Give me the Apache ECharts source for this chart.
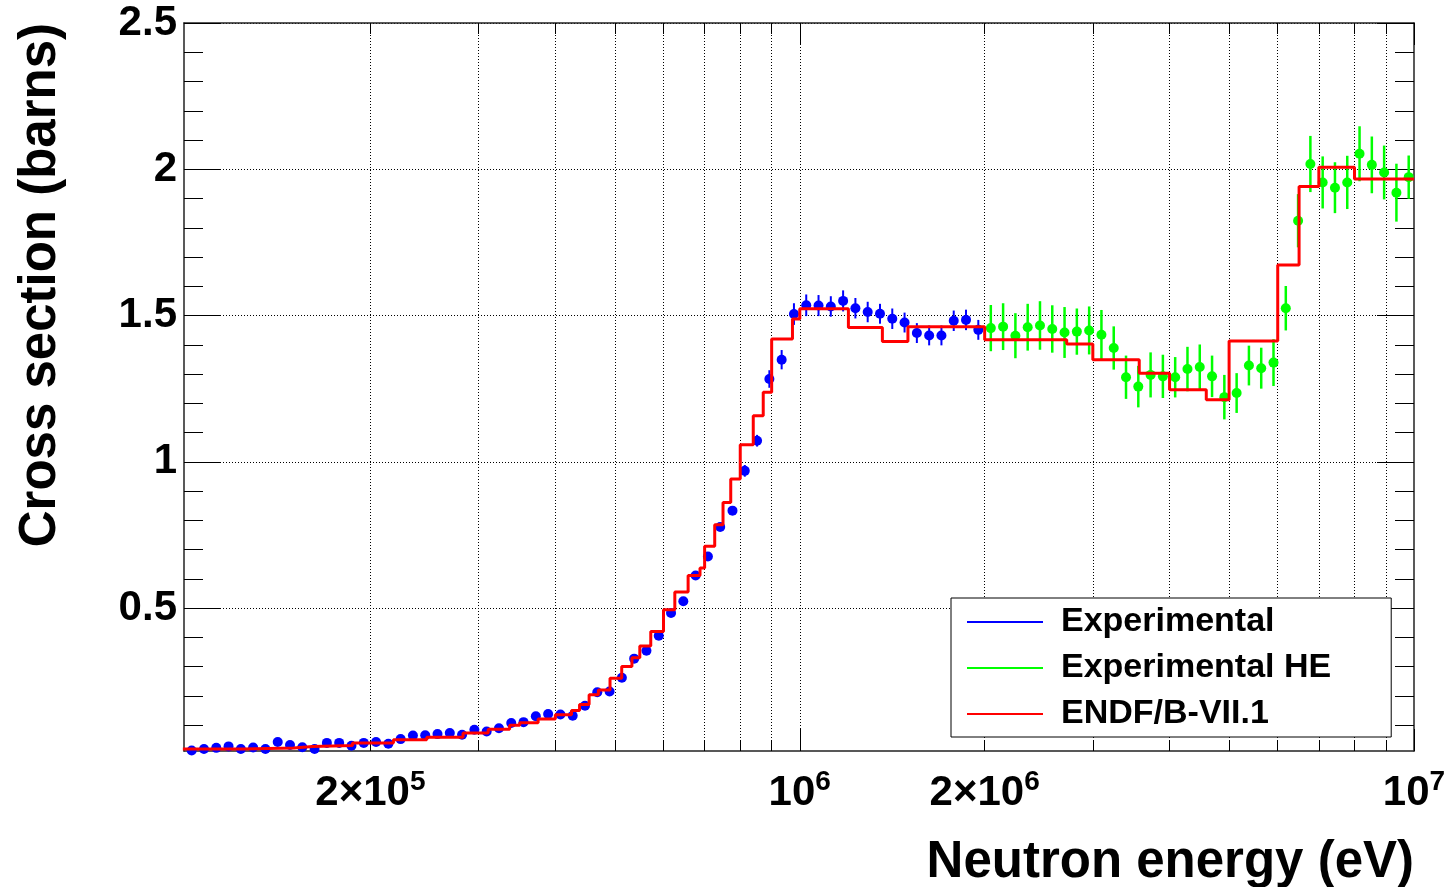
<!DOCTYPE html>
<html>
<head>
<meta charset="utf-8">
<title>Cross section vs neutron energy</title>
<script src="https://cdn.jsdelivr.net/npm/echarts@6.0.0/dist/echarts.min.js"></script>
<style>
  html, body { margin: 0; padding: 0; background: #fff; }
  #chart { width: 1451px; height: 887px; }
</style>
</head>
<body>
<div id="chart"></div>
<script>
const FONT = '"Liberation Sans", Arial, Helvetica, sans-serif';

// Experimental (low energy), bin centres in keV
const blueEnergyKeV = [
  102.33, 107.16, 112.21, 117.50, 123.04, 128.84, 134.92, 141.28, 147.94, 154.92,
  162.22, 169.87, 177.88, 186.27, 195.05, 204.25, 213.88, 223.97, 234.53, 245.59,
  257.17, 269.29, 281.99, 295.29, 309.21, 323.79, 339.06, 355.05, 371.79, 389.32,
  407.68, 426.90, 447.03, 468.11, 490.18, 513.30, 537.50, 562.85, 589.39, 617.18,
  646.28, 676.76, 708.67, 742.09, 777.08, 813.72, 852.09, 892.27, 934.35, 978.41,
  1024.54, 1072.86, 1123.45, 1176.42, 1231.89, 1289.98, 1350.81, 1414.51, 1481.21, 1551.06,
  1624.20, 1700.79, 1780.99, 1864.97, 1952.91
];
const blueXs = [
  0.013, 0.018, 0.022, 0.027, 0.018, 0.023, 0.018, 0.042, 0.032, 0.024,
  0.018, 0.039, 0.039, 0.029, 0.039, 0.042, 0.036, 0.052, 0.064, 0.065,
  0.069, 0.073, 0.067, 0.084, 0.078, 0.089, 0.107, 0.110, 0.130, 0.138,
  0.136, 0.132, 0.166, 0.212, 0.215, 0.262, 0.327, 0.354, 0.405, 0.483,
  0.523, 0.611, 0.676, 0.777, 0.833, 0.969, 1.072, 1.283, 1.349, 1.505,
  1.535, 1.534, 1.531, 1.550, 1.525, 1.512, 1.506, 1.489, 1.476, 1.440,
  1.432, 1.432, 1.482, 1.485, 1.451
];
const blueErr = [
  0.004, 0.004, 0.004, 0.004, 0.004, 0.004, 0.004, 0.004, 0.004, 0.004,
  0.004, 0.004, 0.004, 0.004, 0.004, 0.004, 0.004, 0.004, 0.004, 0.004,
  0.006, 0.006, 0.006, 0.006, 0.006, 0.006, 0.006, 0.006, 0.006, 0.006,
  0.006, 0.006, 0.006, 0.006, 0.006, 0.008, 0.008, 0.008, 0.008, 0.008,
  0.008, 0.010, 0.010, 0.012, 0.012, 0.020, 0.020, 0.030, 0.033, 0.037,
  0.037, 0.036, 0.035, 0.036, 0.035, 0.035, 0.034, 0.035, 0.034, 0.034,
  0.034, 0.034, 0.035, 0.035, 0.034
];

// Experimental HE, bin centres in keV
const greenEnergyKeV = [
  2046.6, 2143.1, 2244.2, 2350.0, 2460.8, 2576.8, 2698.3, 2825.6, 2958.8, 3098.3,
  3244.4, 3397.4, 3557.6, 3725.4, 3901.0, 4085.0, 4277.6, 4479.3, 4690.5, 4911.7,
  5143.3, 5385.8, 5639.8, 5905.7, 6184.2, 6475.8, 6781.1, 7100.9, 7435.7, 7786.3,
  8153.5, 8538.0, 8940.6, 9362.2, 9803.6
];
const greenXs = [
  1.457, 1.462, 1.431, 1.460, 1.466, 1.454, 1.442, 1.445, 1.449, 1.434,
  1.389, 1.289, 1.257, 1.297, 1.292, 1.289, 1.317, 1.324, 1.292, 1.221,
  1.235, 1.329, 1.320, 1.339, 1.525, 1.824, 2.018, 1.955, 1.937, 1.955,
  2.053, 2.015, 1.989, 1.920, 1.973
];
const greenErr = [
  0.079, 0.080, 0.077, 0.080, 0.083, 0.081, 0.087, 0.079, 0.082, 0.085,
  0.074, 0.074, 0.071, 0.077, 0.074, 0.069, 0.076, 0.077, 0.071, 0.076,
  0.068, 0.068, 0.070, 0.080, 0.076, 0.091, 0.096, 0.089, 0.087, 0.091,
  0.094, 0.097, 0.092, 0.099, 0.074
];

// ENDF/B-VII.1 histogram: lower bin edges (eV) and bin values
const endfEdges = [
  99000, 124000, 150000, 161000, 187000, 218000, 247000, 283000, 311000, 337000,
  350000, 375000, 400000, 425000, 438000, 454000, 470000, 491000, 513000, 533000,
  549000, 572000, 600000, 626000, 658000, 688000, 700000, 727000, 750000, 772000,
  800000, 840000, 872000, 900000, 973000, 1000000, 1200000, 1363000, 1500000, 2000000,
  2720000, 3000000, 3570000, 4000000, 4590000, 5000000, 6000000, 6500000, 7000000, 8000000,
  10000000
];
const endfXs = [
  0.018, 0.0215, 0.027, 0.030, 0.039, 0.050, 0.058, 0.073, 0.086, 0.099,
  0.108, 0.121, 0.135, 0.150, 0.170, 0.204, 0.220, 0.260, 0.300, 0.330,
  0.370, 0.420, 0.494, 0.555, 0.611, 0.637, 0.711, 0.785, 0.861, 0.941,
  1.058, 1.157, 1.238, 1.420, 1.488, 1.523, 1.459, 1.411, 1.462, 1.417,
  1.403, 1.349, 1.303, 1.246, 1.212, 1.413, 1.673, 1.941, 2.007, 1.967,
  1.967
];

// axes
const xTickEnergies = [2e5, 3e5, 4e5, 5e5, 6e5, 7e5, 8e5, 9e5, 1e6, 2e6, 3e6, 4e6, 5e6, 6e6, 7e6, 8e6, 9e6];
const xMajorEnergies = [1e6, 1e7];
const xLabelEnergies = [2e5, 1e6, 2e6, 1e7];
const xLabelMant = ['2\u00d710', '10', '2\u00d710', '10'];
const xLabelExp = ['5', '6', '6', '7'];
const yMajorTicks = [0.5, 1, 1.5, 2, 2.5];
const yMinorTicks = [0.1, 0.2, 0.3, 0.4, 0.6, 0.7, 0.8, 0.9, 1.1, 1.2, 1.3, 1.4,
  1.6, 1.7, 1.8, 1.9, 2.1, 2.2, 2.3, 2.4];

const X_MIN = 4.9975, X_MAX = 7;     // log10(eV)
const Y_MIN = 0.0113, Y_MAX = 2.5;

const lg = v => Math.log10(v);

const chart = echarts.init(document.getElementById('chart'));

function errorPoints(color, radius, width) {
  return function (params, api) {
    const x = api.value(0), y = api.value(1), e = api.value(2);
    const c = api.coord([x, y]);
    const lo = api.coord([x, y - e]);
    const hi = api.coord([x, y + e]);
    return {
      type: 'group',
      children: [
        { type: 'line', shape: { x1: c[0], y1: lo[1], x2: c[0], y2: hi[1] },
          style: { stroke: color, lineWidth: width } },
        { type: 'circle', shape: { cx: c[0], cy: c[1], r: radius }, style: { fill: color } }
      ]
    };
  };
}

function xLabel(v) {
  const i = xLabelEnergies.findIndex(e => Math.abs(lg(e) - v) < 1e-6);
  if (i < 0) return '';
  return '{m|' + xLabelMant[i] + '}{s|' + xLabelExp[i] + '}';
}

const frameLine = { show: true, onZero: false, lineStyle: { color: '#222', width: 1.5 } };
const tickStyle = { color: '#000', width: 1 };
const noLine = { show: false, onZero: false };

function xAx(pos, opts) {
  return Object.assign({
    type: 'value', min: X_MIN, max: X_MAX, position: pos,
    axisLine: noLine, axisLabel: { show: false }, splitLine: { show: false }
  }, opts);
}
function yAx(pos, opts) {
  return Object.assign({
    type: 'value', min: Y_MIN, max: Y_MAX, position: pos,
    axisLine: noLine, axisLabel: { show: false }, splitLine: { show: false }
  }, opts);
}

const blueData = blueEnergyKeV.map((e, i) => [lg(e * 1000), blueXs[i], blueErr[i]]);
const greenData = greenEnergyKeV.map((e, i) => [lg(e * 1000), greenXs[i], greenErr[i]]);
const endfData = endfEdges.map((e, i) => [lg(e), endfXs[i]]);

const option = {
  animation: false,
  backgroundColor: '#fff',
  grid: { left: 184, right: 37, top: 23, bottom: 136, outerBoundsMode: 'none', containLabel: false },
  legend: {
    orient: 'vertical', left: 951, top: 598,
    icon: 'rect', itemWidth: 76, itemHeight: 2, itemGap: 6,
    padding: [4, 60, 3, 16],
    backgroundColor: '#fff', borderColor: '#000', borderWidth: 1, borderRadius: 0,
    selectedMode: false,
    textStyle: { fontFamily: FONT, fontSize: 34, fontWeight: 'bold', color: '#000',
      lineHeight: 40, padding: [0, 0, 0, 13] },
    data: ['Experimental', 'Experimental HE', 'ENDF/B-VII.1']
  },
  xAxis: [
    xAx('bottom', {
      axisLine: frameLine,
      axisTick: { show: true, inside: true, length: 11, customValues: xTickEnergies.map(lg), lineStyle: tickStyle },
      splitLine: { show: true, lineStyle: { color: '#000', width: 1, type: [1, 2] } },
      axisLabel: {
        show: true, customValues: xLabelEnergies.map(lg), formatter: xLabel, margin: 17,
        rich: {
          m: { fontFamily: FONT, fontSize: 42, fontWeight: 'bold', color: '#000', lineHeight: 50 },
          s: { fontFamily: FONT, fontSize: 28, fontWeight: 'bold', color: '#000', lineHeight: 26, verticalAlign: 'top' }
        }
      },
      name: 'Neutron energy (eV)', nameLocation: 'end', nameGap: 0, nameMoveOverlap: false,
      nameTextStyle: { fontFamily: FONT, fontSize: 51, fontWeight: 'bold', color: '#000',
        align: 'right', verticalAlign: 'top', padding: [86, 0, 0, 0] }
    }),
    xAx('bottom', { axisTick: { show: true, inside: true, length: 22, customValues: xMajorEnergies.map(lg), lineStyle: tickStyle } }),
    xAx('top', {
      axisLine: frameLine,
      axisTick: { show: true, inside: true, length: 11, customValues: xTickEnergies.map(lg), lineStyle: tickStyle }
    }),
    xAx('top', { axisTick: { show: true, inside: true, length: 22, customValues: xMajorEnergies.map(lg), lineStyle: tickStyle } })
  ],
  yAxis: [
    yAx('left', {
      axisLine: frameLine,
      axisTick: { show: true, inside: true, length: 37, customValues: yMajorTicks, lineStyle: tickStyle },
      splitLine: { show: true, lineStyle: { color: '#000', width: 1, type: [1, 2] } },
      axisLabel: { show: true, customValues: yMajorTicks, margin: 7, formatter: v => String(v),
        fontFamily: FONT, fontSize: 42, fontWeight: 'bold', color: '#000' },
      name: 'Cross section (barns)', nameLocation: 'end', nameGap: 0, nameRotate: 90, nameMoveOverlap: false,
      nameTextStyle: { fontFamily: FONT, fontSize: 51, fontWeight: 'bold', color: '#000',
        align: 'right', verticalAlign: 'bottom', padding: [0, 0, 118, 0] }
    }),
    yAx('left', { axisTick: { show: true, inside: true, length: 19, customValues: yMinorTicks, lineStyle: tickStyle } }),
    yAx('right', {
      axisLine: frameLine,
      axisTick: { show: true, inside: true, length: 37, customValues: yMajorTicks, lineStyle: tickStyle }
    }),
    yAx('right', { axisTick: { show: true, inside: true, length: 19, customValues: yMinorTicks, lineStyle: tickStyle } })
  ],
  series: [
    {
      name: 'Experimental', type: 'custom', renderItem: errorPoints('#0000ff', 5, 2),
      data: blueData, encode: { x: 0, y: 1 }, itemStyle: { color: '#0000ff' }, z: 3
    },
    {
      name: 'Experimental HE', type: 'custom', renderItem: errorPoints('#00ff00', 5, 2.5),
      data: greenData, encode: { x: 0, y: 1 }, itemStyle: { color: '#00ff00' }, z: 3
    },
    {
      name: 'ENDF/B-VII.1', type: 'line', step: 'end', data: endfData,
      showSymbol: false, symbol: 'none',
      lineStyle: { color: '#ff0000', width: 3 }, itemStyle: { color: '#ff0000' }, z: 4
    }
  ]
};

chart.setOption(option);
</script>
</body>
</html>
